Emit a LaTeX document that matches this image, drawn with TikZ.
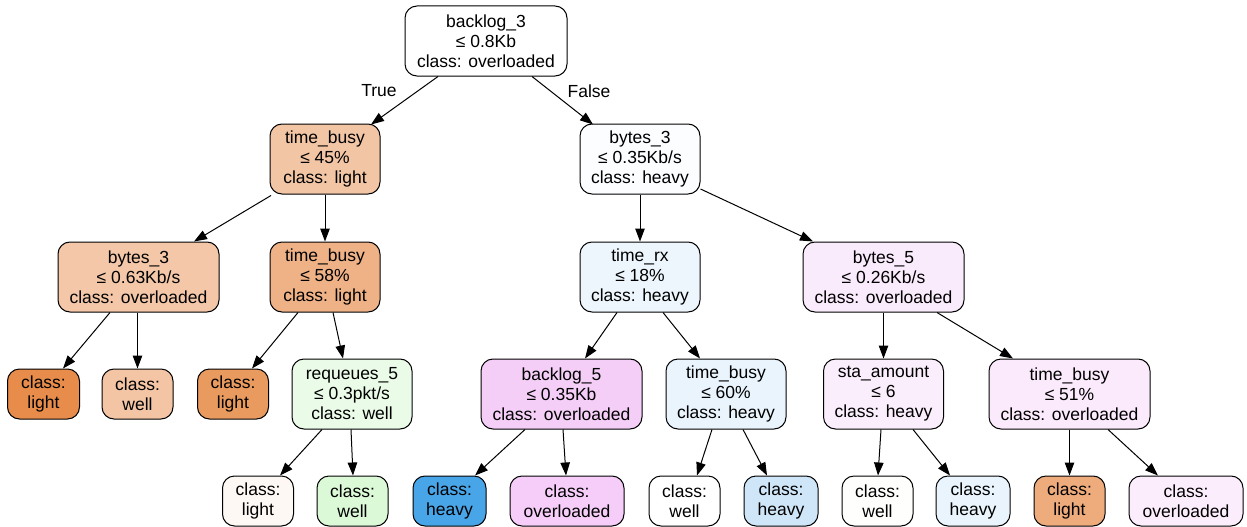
\documentclass[tikz,border=0pt]{standalone}
\usepackage{fontspec}
\setmainfont{Liberation Sans}
\usetikzlibrary{arrows.meta}
\definecolor{cTBa}{HTML}{F2C5A4}
\definecolor{cBa}{HTML}{FBFDFF}
\definecolor{cBL}{HTML}{F3C7A7}
\definecolor{cTBb}{HTML}{EFB286}
\definecolor{cTRX}{HTML}{EEF6FD}
\definecolor{cB5}{HTML}{FAEBFC}
\definecolor{cLfa}{HTML}{E78C4A}
\definecolor{cLfb}{HTML}{F3C5A4}
\definecolor{cLfc}{HTML}{E99A5E}
\definecolor{cRQ}{HTML}{EAFCE8}
\definecolor{cBL5}{HTML}{F5CEF8}
\definecolor{cT60}{HTML}{EAF4FD}
\definecolor{cSTA}{HTML}{FBEEFC}
\definecolor{cT51}{HTML}{FBEAFC}
\definecolor{cA}{HTML}{FDF8F3}
\definecolor{cB}{HTML}{DCF9D7}
\definecolor{cC}{HTML}{48A5E8}
\definecolor{cD}{HTML}{F5CDF8}
\definecolor{cE}{HTML}{FFFFFF}
\definecolor{cF}{HTML}{CFE6F8}
\definecolor{cG}{HTML}{FEFEFD}
\definecolor{cH}{HTML}{E9F4FC}
\definecolor{cI}{HTML}{EEAB7C}
\definecolor{cJ}{HTML}{FCEDFD}
\tikzset{
  tnode/.style={draw=black, line width=1pt, rounded corners=12pt, align=center,
    inner sep=0pt, minimum height=70pt,
    font=\fontsize{17.5}{20}\selectfont},
  leaf/.style={tnode, minimum height=50pt},
  edge/.style={draw=black, line width=1pt, -{Triangle[length=13pt,width=9.5pt]}},
  elabel/.style={font=\fontsize{17.5}{20}\selectfont, inner sep=0pt}
}
\begin{document}
\begin{tikzpicture}[x=1pt,y=-1pt]
\useasboundingbox (0,0) rectangle (1247,527);
% level 0
\node[tnode, fill=white, minimum width=162pt] (root) at (486,41) {backlog\_3\\≤ 0.8Kb\\class: overloaded};
% level 1
\node[tnode, fill=cTBa, minimum width=110pt] (tb1) at (325,159) {time\_busy\\≤ 45\%\\class: light};
\node[tnode, fill=cBa, minimum width=120pt] (b3) at (640,159) {bytes\_3\\≤ 0.35Kb/s\\class: heavy};
% level 2
\node[tnode, fill=cBL, minimum width=161pt] (b3L) at (138.5,277) {bytes\_3\\≤ 0.63Kb/s\\class: overloaded};
\node[tnode, fill=cTBb, minimum width=110pt] (tb2) at (325,277) {time\_busy\\≤ 58\%\\class: light};
\node[tnode, fill=cTRX, minimum width=120pt] (trx) at (640,277) {time\_rx\\≤ 18\%\\class: heavy};
\node[tnode, fill=cB5, minimum width=161pt] (b5) at (883.5,277) {bytes\_5\\≤ 0.26Kb/s\\class: overloaded};
% level 3
\node[leaf, fill=cLfa, minimum width=72pt] (lf1) at (43.5,394) {class:\\light};
\node[leaf, fill=cLfb, minimum width=71pt] (lf2) at (137.5,394) {class:\\well};
\node[leaf, fill=cLfc, minimum width=71pt] (lf3) at (233,394) {class:\\light};
\node[tnode, fill=cRQ, minimum width=120pt] (rq) at (352,394) {requeues\_5\\≤ 0.3pkt/s\\class: well};
\node[tnode, fill=cBL5, minimum width=161pt] (bl5) at (561.5,394) {backlog\_5\\≤ 0.35Kb\\class: overloaded};
\node[tnode, fill=cT60, minimum width=120pt] (tb60) at (726,394) {time\_busy\\≤ 60\%\\class: heavy};
\node[tnode, fill=cSTA, minimum width=120pt] (sta) at (883.5,394) {sta\_amount\\≤ 6\\class: heavy};
\node[tnode, fill=cT51, minimum width=161pt] (tb51) at (1069.5,394) {time\_busy\\≤ 51\%\\class: overloaded};
% level 4
\node[leaf, fill=cA, minimum width=71pt] (la) at (258,501) {class:\\light};
\node[leaf, fill=cB, minimum width=71pt] (lb) at (352.5,501) {class:\\well};
\node[leaf, fill=cC, minimum width=73pt] (lc) at (449.5,501) {class:\\heavy};
\node[leaf, fill=cD, minimum width=114pt] (ld) at (567,501) {class:\\overloaded};
\node[leaf, fill=cE, minimum width=71pt] (le) at (684.5,501) {class:\\well};
\node[leaf, fill=cF, minimum width=74pt] (lf) at (781,501) {class:\\heavy};
\node[leaf, fill=cG, minimum width=71pt] (lg) at (877.5,501) {class:\\well};
\node[leaf, fill=cH, minimum width=74pt] (lh) at (973,501) {class:\\heavy};
\node[leaf, fill=cI, minimum width=71pt] (li) at (1069.5,501) {class:\\light};
\node[leaf, fill=cJ, minimum width=114pt] (lj) at (1186,501) {class:\\overloaded};
% edge labels
\node[elabel] (lt) at (379,91) {True};
\node[elabel] (lfl) at (589,91) {False};
% edges
\draw[edge] ([xshift=-48pt]root.south) -- ([xshift=46pt,yshift=-1pt]tb1.north);
\draw[edge] ([xshift=46pt]root.south) -- ([xshift=-47pt,yshift=-1pt]b3.north);
\draw[edge] ([xshift=-54pt,yshift=-1pt]tb1.south) -- ([xshift=55.5pt]b3L.north);
\draw[edge] (tb1.south) -- (tb2.north);
\draw[edge] (b3.south) -- (trx.north);
\draw[edge] ([yshift=-30pt]b3.east) -- ([xshift=-70.5pt]b5.north);
\draw[edge] ([xshift=-28.5pt]b3L.south) -- ([xshift=19.5pt]lf1.north);
\draw[edge] ([xshift=-1pt]b3L.south) -- (lf2.north);
\draw[edge] ([xshift=-27pt]tb2.south) -- ([xshift=19pt]lf3.north);
\draw[edge] ([xshift=8pt]tb2.south) -- ([xshift=-9pt]rq.north);
\draw[edge] ([xshift=-23pt]trx.south) -- ([xshift=23.5pt]bl5.north);
\draw[edge] ([xshift=23pt]trx.south) -- ([xshift=-26pt]tb60.north);
\draw[edge] (b5.south) -- (sta.north);
\draw[edge] ([xshift=53.5pt]b5.south) -- ([xshift=-56.5pt]tb51.north);
\draw[edge] ([xshift=-30pt]rq.south) -- ([xshift=22pt]la.north);
\draw[edge] ([xshift=-1pt]rq.south) -- ([xshift=0.5pt]lb.north);
\draw[edge] ([xshift=-36.5pt]bl5.south) -- ([xshift=25.5pt]lc.north);
\draw[edge] ([xshift=1.5pt]bl5.south) -- ([xshift=-1pt]ld.north);
\draw[edge] ([xshift=-14pt]tb60.south) -- ([xshift=12.5pt]le.north);
\draw[edge] ([xshift=17pt]tb60.south) -- ([xshift=-14pt]lf.north);
\draw[edge] ([xshift=-2.5pt]sta.south) -- ([xshift=0.5pt]lg.north);
\draw[edge] ([xshift=29.5pt]sta.south) -- ([xshift=-23pt]lh.north);
\draw[edge] (tb51.south) -- (li.north);
\draw[edge] ([xshift=38.5pt]tb51.south) -- ([xshift=-28pt]lj.north);
\end{tikzpicture}
\end{document}
